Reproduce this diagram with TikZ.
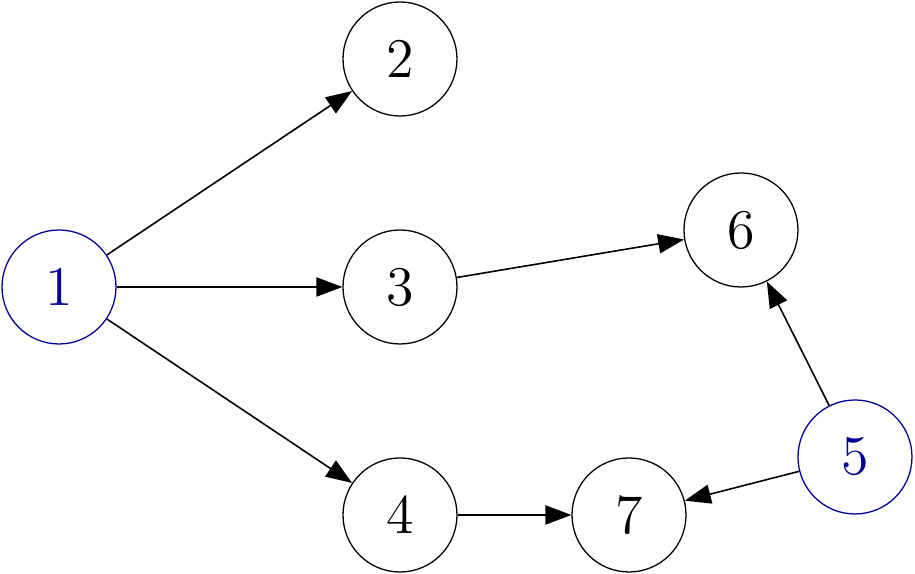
\documentclass[tikz,border=0pt]{standalone}
\usetikzlibrary{arrows.meta}
\definecolor{nodeblue}{RGB}{0,0,150}
\begin{document}
\begin{tikzpicture}[x=0.25pt,y=-0.25pt,
  vert/.style={circle,draw,line width=0.32pt,minimum size=28.5pt,inner sep=0pt,font=\fontsize{14}{17}\selectfont},
  src/.style={vert,draw=nodeblue,text=nodeblue},
  edge/.style={line width=0.4pt,-{Triangle[length=6.5pt,width=4.8pt]}}]
\useasboundingbox (0,0) rectangle (915,574);
\node[src]  (n1) at (59,287) {1};
\node[vert] (n2) at (400,59) {2};
\node[vert] (n3) at (400,287) {3};
\node[vert] (n4) at (400,515) {4};
\node[src]  (n5) at (855,457) {5};
\node[vert] (n6) at (741,230) {6};
\node[vert] (n7) at (629,515) {7};
\draw[edge] (n1) -- (n2);
\draw[edge] (n1) -- (n3);
\draw[edge] (n1) -- (n4);
\draw[edge] (n3) -- (n6);
\draw[edge] (n4) -- (n7);
\draw[edge] (n5) -- (n6);
\draw[edge] (n5) -- (n7);
\end{tikzpicture}
\end{document}
